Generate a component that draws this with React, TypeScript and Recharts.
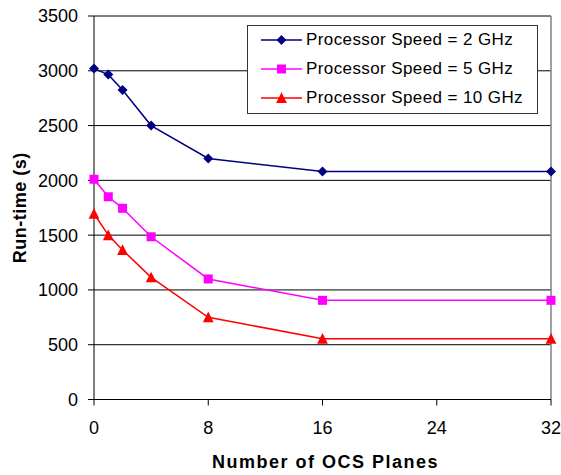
import React from "react";
import { LineChart, Line, XAxis, YAxis, CartesianGrid, Legend, ReferenceLine } from "recharts";

const planes = [0, 1, 2, 4, 8, 16, 32];
const speed2 = [3020, 2965, 2825, 2500, 2200, 2080, 2080];
const speed5 = [2010, 1850, 1745, 1485, 1100, 905, 905];
const speed10 = [1695, 1500, 1365, 1115, 750, 555, 555];
const xTicks = [0, 8, 16, 24, 32];
const yTicks = [0, 500, 1000, 1500, 2000, 2500, 3000, 3500];
const seriesNames = [
  "Processor Speed = 2 GHz",
  "Processor Speed = 5 GHz",
  "Processor Speed = 10 GHz",
];

const data = planes.map((p, i) => ({ x: p, s2: speed2[i], s5: speed5[i], s10: speed10[i] }));

const FONT = "'Liberation Sans', Arial, sans-serif";

const Diamond = (props: any) => {
  const { cx, cy, fill } = props;
  if (cx == null || cy == null) return null;
  const r = 5;
  return <path d={`M${cx},${cy - r}L${cx + r},${cy}L${cx},${cy + r}L${cx - r},${cy}Z`} fill={fill} />;
};
const Square = (props: any) => {
  const { cx, cy, fill } = props;
  if (cx == null || cy == null) return null;
  const r = 4.5;
  return <rect x={cx - r} y={cy - r} width={2 * r} height={2 * r} fill={fill} />;
};
const Triangle = (props: any) => {
  const { cx, cy, fill } = props;
  if (cx == null || cy == null) return null;
  return <path d={`M${cx},${cy - 5.7}L${cx + 5.4},${cy + 5}L${cx - 5.4},${cy + 5}Z`} fill={fill} />;
};

const colors = ["#000080", "#FF00FF", "#FF0000"];
const shapes = [Diamond, Square, Triangle];
const rowHeights = [28, 29, 30];

const LegendBox = () => (
  <div
    style={{
      width: 291,
      height: 89,
      border: "1px solid #333",
      background: "#fff",
      boxSizing: "border-box",
      fontFamily: FONT,
      fontSize: 17,
      color: "#000",
    }}
  >
    {seriesNames.map((n, i) => {
      const S = shapes[i];
      return (
        <div key={n} style={{ display: "flex", alignItems: "center", height: rowHeights[i] }}>
          <svg width={58} height={16} style={{ display: "block", flex: "none" }}>
            <line x1={13} y1={8} x2={54} y2={8} stroke={colors[i]} strokeWidth={1.5} />
            <S cx={33.5} cy={8} fill={colors[i]} />
          </svg>
          <span style={{ letterSpacing: 0.4, whiteSpace: "nowrap" }}>{n}</span>
        </div>
      );
    })}
  </div>
);

export default function App() {
  return (
    <div style={{ position: "absolute", left: 0, top: 0, background: "#fff" }}>
      <LineChart width={561} height={475} data={data} margin={{ top: 16, right: 10, left: 0, bottom: 0 }}>
        <CartesianGrid horizontal vertical={false} stroke="#000" strokeWidth={1} />
        <XAxis
          dataKey="x"
          type="number"
          domain={[0, 32]}
          ticks={xTicks}
          height={75.5}
          tickSize={6}
          tickMargin={16}
          stroke="#000"
          tick={{ fill: "#000", fontSize: 18, fontFamily: FONT }}
          label={{
            value: "Number of OCS Planes",
            position: "insideBottom",
            offset: 7,
            dx: 3,
            style: { fill: "#000", fontSize: 18, fontWeight: "bold", fontFamily: FONT, letterSpacing: 1.5 },
          }}
        />
        <YAxis
          type="number"
          domain={[0, 3500]}
          ticks={yTicks}
          width={94}
          tickSize={6}
          tickMargin={10}
          stroke="#000"
          tick={{ fill: "#000", fontSize: 18, fontFamily: FONT }}
          label={{
            value: "Run-time (s)",
            angle: -90,
            position: "insideLeft",
            offset: 20,
            style: { fill: "#000", fontSize: 18, fontWeight: "bold", fontFamily: FONT, textAnchor: "middle", letterSpacing: 0.5 },
          }}
        />
        <ReferenceLine x={32} stroke="#808080" strokeWidth={1.5} />
        <Line dataKey="s2" name={seriesNames[0]} stroke={colors[0]} strokeWidth={1.5} dot={<Diamond fill={colors[0]} />} isAnimationActive={false} />
        <Line dataKey="s5" name={seriesNames[1]} stroke={colors[1]} strokeWidth={1.5} dot={<Square fill={colors[1]} />} isAnimationActive={false} />
        <Line dataKey="s10" name={seriesNames[2]} stroke={colors[2]} strokeWidth={1.5} dot={<Triangle fill={colors[2]} />} isAnimationActive={false} />
        <Legend
          layout="vertical"
          align="center"
          verticalAlign="middle"
          content={() => <LegendBox />}
          wrapperStyle={{ position: "absolute", left: 247, top: 25, width: 291 }}
        />
      </LineChart>
    </div>
  );
}
